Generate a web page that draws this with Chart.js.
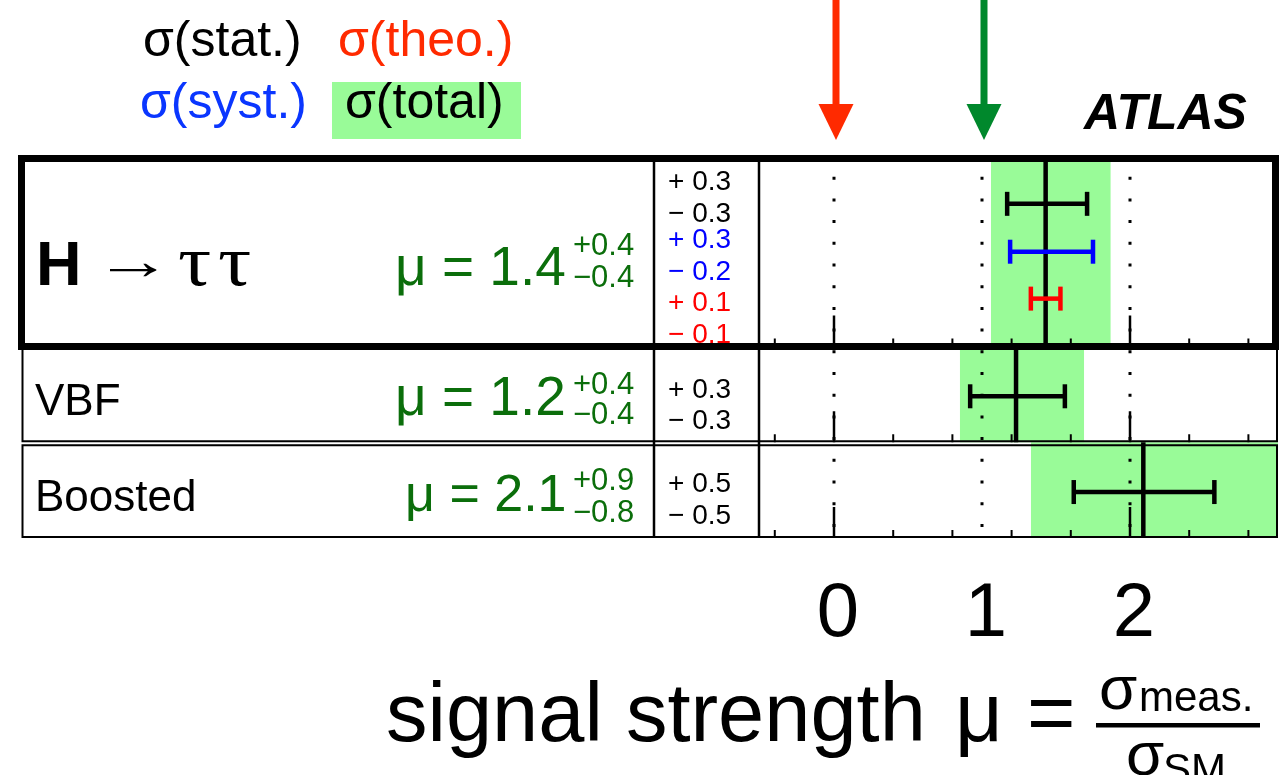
<!DOCTYPE html>
<html>
<head>
<meta charset="utf-8">
<script src="https://cdn.jsdelivr.net/npm/chart.js@4.4.1/dist/chart.umd.min.js"></script>
<style>
html,body{margin:0;padding:0;background:#ffffff;overflow:hidden}
canvas{display:block}
</style>
</head>
<body>
<canvas id="c" width="1286" height="775"></canvas>
<script>
// ---------------- data ----------------
const categories    = ['H → ττ', 'VBF', 'Boosted'];
const muValues      = [1.43, 1.23, 2.09];
const muText        = ['1.4', '1.2', '2.1'];
const totalUp       = [0.44, 0.46, 0.91];
const totalDown     = [0.37, 0.38, 0.76];
const totalUpText   = ['+0.4', '+0.4', '+0.9'];
const totalDownText = ['−0.4', '−0.4', '−0.8'];
const statUp        = [0.28, 0.33, 0.48];
const statDown      = [0.26, 0.31, 0.47];
const statUpText    = ['+ 0.3', '+ 0.3', '+ 0.5'];
const statDownText  = ['− 0.3', '− 0.3', '− 0.5'];
const systUp        = [0.32];
const systDown      = [0.24];
const systUpText    = ['+ 0.3'];
const systDownText  = ['− 0.2'];
const theoUp        = [0.10];
const theoDown      = [0.10];
const theoUpText    = ['+ 0.1'];
const theoDownText  = ['− 0.1'];
const xTickValues   = [0, 1, 2];
const dottedValues  = [0, 1, 2];
const arrowValues   = [0, 1];

// ---------------- layout / style ----------------
const FONT  = "'Liberation Sans', Arial, Helvetica, sans-serif";
const SERIF = "'Liberation Serif', 'DejaVu Serif', serif";
const C = {
  band: '#99fb98', mu: '#0b6e0b', stat: '#000000', syst: '#0000ff', theo: '#ff0000',
  legSyst: '#0a36ff', legTheo: '#ff2a00', arrows: ['#ff2a00', '#00882c']
};
const rowSpan = [[0, 2], [2, 3], [3, 4]];   // y-axis units (reversed axis)
const statY = [0.51, 2.52, 3.52];
const systY = [1.01];
const theoY = [1.5];
const AREA = { left: 760, right: 1278, top: 155, bottom: 538 };

// ---------------- datasets ----------------
const datasets = [];
categories.forEach((c, i) => {
  const lo = muValues[i] - totalDown[i], hi = muValues[i] + totalUp[i];
  datasets.push({ data: [{x: lo, y: rowSpan[i][0]}, {x: hi, y: rowSpan[i][0]}],
    borderColor: 'rgba(0,0,0,0)', borderWidth: 1, pointRadius: 0, fill: false, order: 10 });
  datasets.push({ data: [{x: lo, y: rowSpan[i][1]}, {x: hi, y: rowSpan[i][1]}],
    borderColor: 'rgba(0,0,0,0)', borderWidth: 1, pointRadius: 0, fill: '-1',
    backgroundColor: C.band, order: 10 });
});
dottedValues.forEach(v => datasets.push({
  data: [{x: v, y: 0}, {x: v, y: 4}], borderColor: '#000', borderWidth: 3,
  borderDash: [3, 18.7], pointRadius: 0, fill: false, order: 5 }));
categories.forEach((c, i) => datasets.push({
  data: [{x: muValues[i], y: rowSpan[i][0]}, {x: muValues[i], y: rowSpan[i][1]}],
  borderColor: '#000', borderWidth: 4.5, pointRadius: 0, fill: false, order: 3 }));
function errBar(mu, down, up, yv, color) {
  return { data: [{x: mu - down, y: yv}, {x: mu + up, y: yv}], borderColor: color,
    borderWidth: 4.5, pointStyle: 'line', pointRotation: 90, pointRadius: 12,
    pointHoverRadius: 12, pointBorderWidth: 4.5, pointBorderColor: color,
    pointBackgroundColor: color, fill: false, order: 1 };
}
categories.forEach((c, i) => datasets.push(errBar(muValues[i], statDown[i], statUp[i], statY[i], C.stat)));
systUp.forEach((u, i) => datasets.push(errBar(muValues[i], systDown[i], u, systY[i], C.syst)));
theoUp.forEach((u, i) => datasets.push(errBar(muValues[i], theoDown[i], u, theoY[i], C.theo)));

// ---------------- drawing helpers ----------------
function txt(ctx, s, x, y, font, color, align, sx) {
  ctx.save();
  ctx.font = font; ctx.fillStyle = color; ctx.textAlign = align || 'left';
  ctx.textBaseline = 'alphabetic';
  if (sx) { ctx.translate(x, y); ctx.scale(sx, 1); ctx.fillText(s, 0, 0); }
  else ctx.fillText(s, x, y);
  ctx.restore();
}

const overlay = {
  id: 'overlay',
  afterDatasetsDraw(chart) {
    const ctx = chart.ctx, xs = chart.scales.x, ys = chart.scales.y;
    ctx.save();
    // per-row axis ticks
    ctx.strokeStyle = '#000';
    rowSpan.forEach(r => {
      const yb = ys.getPixelForValue(r[1]);
      for (let k = -1; k <= 7; k++) {
        const v = k * 0.4;
        const px = xs.getPixelForValue(v);
        const major = (k === 0 || k === 5);
        ctx.lineWidth = major ? 2.5 : 2;
        ctx.beginPath(); ctx.moveTo(px, yb); ctx.lineTo(px, yb - (major ? 31 : 8)); ctx.stroke();
      }
    });
    // left texts
    txt(ctx, 'H', 36, 285, 'bold 63px ' + FONT, '#000');
    txt(ctx, '→', 94, 279, '54px ' + FONT, '#000', 'left', 1.45);
    txt(ctx, 'τ', 178, 285, '72px ' + SERIF, '#000', 'left', 1.15);
    txt(ctx, 'τ', 218, 285, '72px ' + SERIF, '#000', 'left', 1.15);
    txt(ctx, categories[1], 35, 415, '44px ' + FONT, '#000');
    txt(ctx, categories[2], 35, 511, '44px ' + FONT, '#000');
    const muX = [395, 395, 405], muBase = [285, 415, 511], muSize = [55, 55, 52];
    const supBase = [255, 394, 490], subBase = [287, 424, 522];
    categories.forEach((c, i) => {
      txt(ctx, 'μ = ' + muText[i], muX[i], muBase[i], muSize[i] + 'px ' + FONT, C.mu);
      txt(ctx, totalUpText[i], 573, supBase[i], '31px ' + FONT, C.mu);
      txt(ctx, totalDownText[i], 573, subBase[i], '31px ' + FONT, C.mu);
    });
    const nf = '28px ' + FONT;
    txt(ctx, statUpText[0], 668, 190, nf, C.stat);
    txt(ctx, statDownText[0], 668, 222, nf, C.stat);
    txt(ctx, systUpText[0], 668, 248, nf, C.syst);
    txt(ctx, systDownText[0], 668, 280, nf, C.syst);
    txt(ctx, theoUpText[0], 668, 311, nf, C.theo);
    txt(ctx, theoDownText[0], 668, 343, nf, C.theo);
    txt(ctx, statUpText[1], 668, 398, nf, C.stat);
    txt(ctx, statDownText[1], 668, 429, nf, C.stat);
    txt(ctx, statUpText[2], 668, 492, nf, C.stat);
    txt(ctx, statDownText[2], 668, 524, nf, C.stat);
    // boxes
    const yB1 = ys.getPixelForValue(rowSpan[0][1]);
    const yB2 = ys.getPixelForValue(rowSpan[1][1]);
    const yB3 = ys.getPixelForValue(rowSpan[2][1]);
    ctx.strokeStyle = '#000';
    ctx.lineWidth = 2;
    ctx.strokeRect(22.5, yB1, 1277 - 22.5, yB2 - 1 - yB1);
    ctx.strokeRect(22.5, yB2 + 3, 1277 - 22.5, yB3 - 1 - (yB2 + 3));
    ctx.lineWidth = 2.5;
    ctx.beginPath();
    ctx.moveTo(654, AREA.top); ctx.lineTo(654, yB3 - 1);
    ctx.moveTo(759, AREA.top); ctx.lineTo(759, yB3 - 1);
    ctx.stroke();
    ctx.lineWidth = 7;
    ctx.strokeRect(21.5, 158.5, 1275.5 - 21.5, yB1 - 158.5);
    ctx.restore();
  },
  afterDraw(chart) {
    const ctx = chart.ctx, xs = chart.scales.x;
    ctx.save();
    // legend
    const lf = '50px ' + FONT;
    txt(ctx, 'σ(stat.)', 143, 56, lf, '#000');
    txt(ctx, 'σ(theo.)', 338, 56, lf, C.legTheo);
    ctx.fillStyle = C.band; ctx.fillRect(332, 82, 189, 57);
    txt(ctx, 'σ(syst.)', 140, 118, lf, C.legSyst);
    txt(ctx, 'σ(total)', 345, 118, lf, '#000');
    // arrows
    arrowValues.forEach((v, i) => {
      const px = xs.getPixelForValue(v) + 2;
      ctx.fillStyle = C.arrows[i];
      ctx.fillRect(px - 3.5, 0, 7, 106);
      ctx.beginPath(); ctx.moveTo(px - 17.5, 104); ctx.lineTo(px + 17.5, 104); ctx.lineTo(px, 140); ctx.closePath(); ctx.fill();
    });
    // ATLAS
    txt(ctx, 'ATLAS', 1084, 129, 'italic bold 50px ' + FONT, '#000');
    // axis title
    const tf = '83px ' + FONT;
    txt(ctx, 'signal strength', 386, 741, tf, '#000');
    txt(ctx, 'μ', 955, 741, tf, '#000');
    txt(ctx, '=', 1027, 741, tf, '#000');
    ctx.fillStyle = '#000'; ctx.fillRect(1096, 723, 164, 4.5);
    txt(ctx, 'σ', 1099, 709, '62px ' + FONT, '#000');
    txt(ctx, 'meas.', 1139, 711, '42px ' + FONT, '#000');
    txt(ctx, 'σ', 1126, 775, '62px ' + FONT, '#000');
    txt(ctx, 'SM', 1163, 783, '42px ' + FONT, '#000');
    ctx.restore();
  }
};

const chart = new Chart(document.getElementById('c'), {
  type: 'line',
  data: { datasets },
  options: {
    responsive: false, animation: false, devicePixelRatio: 1,
    layout: { autoPadding: false,
              padding: { left: AREA.left, right: 1286 - AREA.right, top: AREA.top, bottom: 110 } },
    plugins: { legend: { display: false }, tooltip: { enabled: false } },
    events: [],
    scales: {
      x: {
        type: 'linear', min: -0.5, max: 3, position: 'bottom',
        grid: { display: false, drawTicks: false }, border: { display: false },
        afterBuildTicks: ax => { ax.ticks = xTickValues.map(v => ({ value: v })); },
        ticks: { font: { family: FONT, size: 76 }, color: '#000', padding: 31, labelOffset: 4,
                 maxRotation: 0, autoSkip: false, callback: v => String(v) }
      },
      y: { type: 'linear', min: 0, max: 4, reverse: true, display: false }
    }
  },
  plugins: [overlay]
});
// pin the plot area to the reference frame
const pad = chart.options.layout.padding;
const ca = chart.chartArea;
pad.left += AREA.left - ca.left;
pad.top += AREA.top - ca.top;
pad.right += ca.right - AREA.right;
pad.bottom += ca.bottom - AREA.bottom;
chart.update('none');
</script>
</body>
</html>
